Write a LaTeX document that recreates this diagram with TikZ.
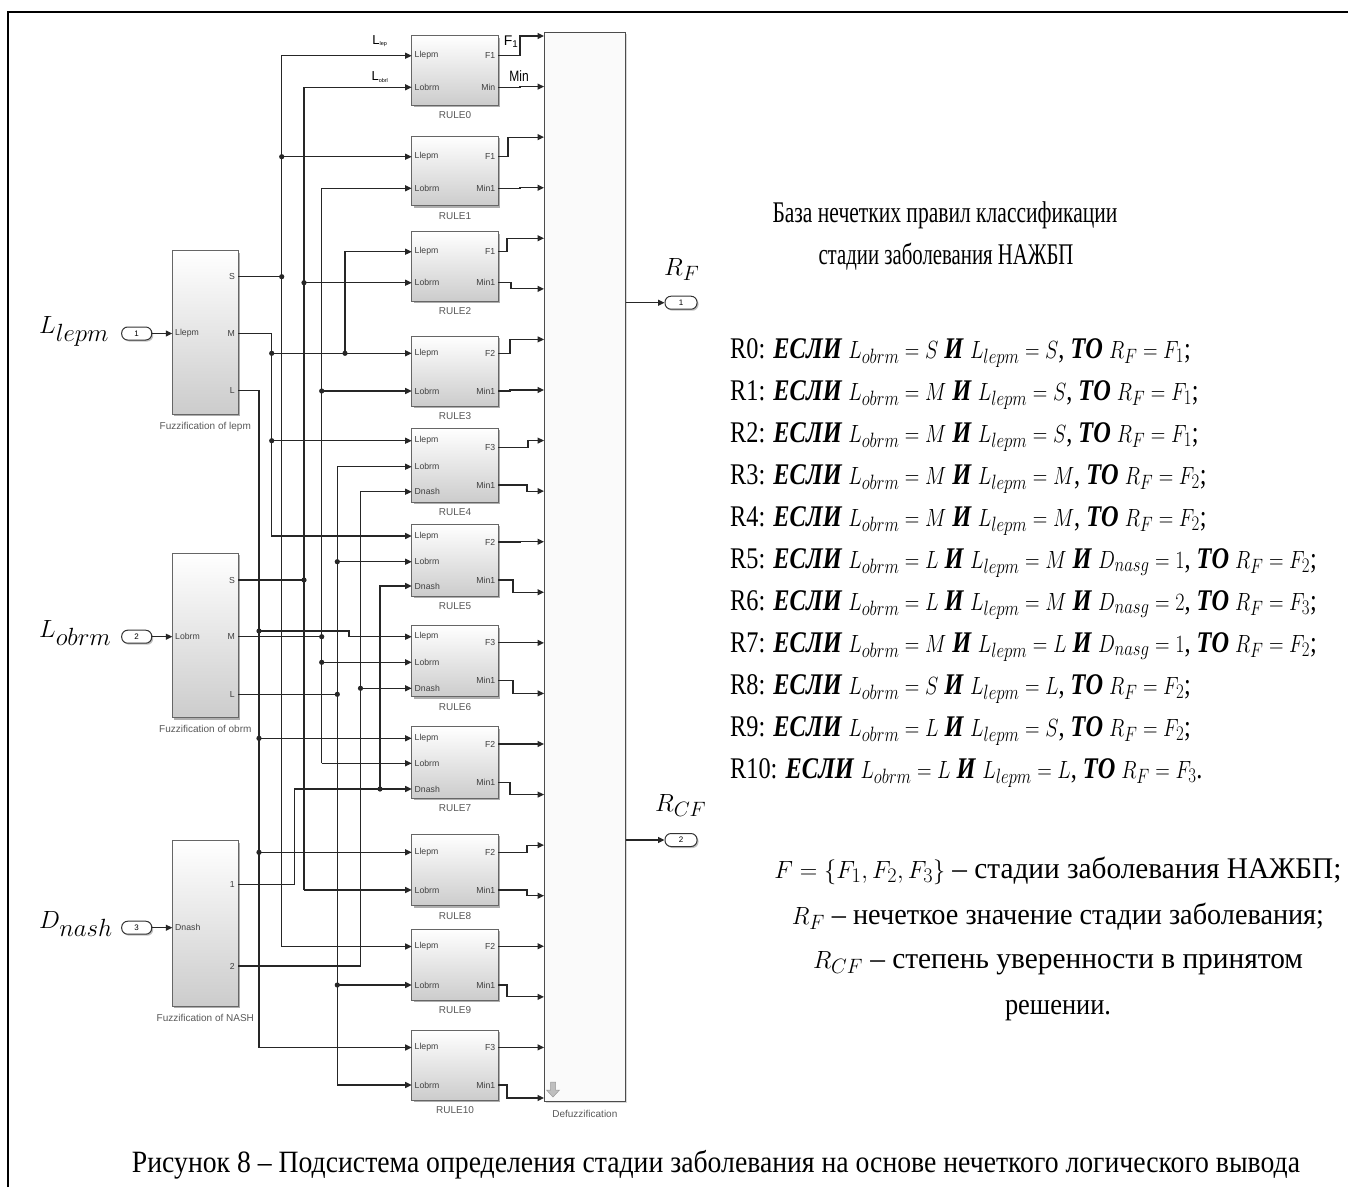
\documentclass[tikz,border=0pt]{standalone}
\usepackage{fontspec}
\setmainfont{Liberation Serif}
\newfontfamily\ssf{Liberation Sans}
\usetikzlibrary{arrows.meta,calc,shadows}
\newcommand\cz[1]{\scalebox{0.81}[1]{#1}}
\newcommand\bi[1]{\textbf{\textit{#1}}}
\tikzset{
  wire/.style={line width=1.2pt, draw=black!85},
  arr/.style={wire, -{Triangle[length=6.5pt,width=6pt]}},
  jdot/.style={fill=black!85},
  blk/.style={draw=black!60, line width=1pt, top color=white, bottom color=black!20, inner sep=0pt,
     drop shadow={shadow xshift=1.8pt, shadow yshift=-1.8pt, fill=black!45, opacity=0.7}},
  plab/.style={font=\ssf\fontsize{8.7}{9}\selectfont, text=black!75, inner sep=0pt},
  blab/.style={font=\ssf\fontsize{10}{11}\selectfont, text=black!65, inner sep=0pt},
  portn/.style={draw=black!80, line width=1pt, rounded corners=6pt, minimum width=30pt, minimum height=13pt, inner sep=0pt, fill=white, font=\ssf\fontsize{8}{9}\selectfont, drop shadow={shadow xshift=1.5pt, shadow yshift=-1.5pt, fill=black!40, opacity=0.6}},
  rtxt/.style={font=\fontsize{30}{34}\selectfont, inner sep=0pt},
}
\newcommand\rbox[4]{%
  \pgfmathsetmacro\rc{(#2+#3)/2}%
  \pgfmathsetmacro\rh{#3-#2}%
  \node[blk, minimum width=86.6pt, minimum height=\rh pt] (#1) at (455,\rc) {};
  \node[blab, anchor=north] (#1-lab) at ($(#1.south)+(0,6)$) {#4};
}
\newcommand\rin[4]{\coordinate (#1-i#2) at (411.7,#3); \node[plab, anchor=west] (#1-il#2) at (414.5,#3) {#4};}
\newcommand\rout[4]{\coordinate (#1-o#2) at (498.3,#3); \node[plab, anchor=east] (#1-ol#2) at (495.5,#3) {#4};}
\newcommand\ow[3]{\draw[arr] (#1) -| ($(dz-#3)+(#2-544,0)$) -- (dz-#3);}
\newcommand\jd[1]{\fill[jdot] (#1) circle (2.6pt);}
\begin{document}
\begin{tikzpicture}[x=1pt,y=-1pt]
\useasboundingbox (0,0) rectangle (1348,1187);
\fill[white] (0,0) rectangle (1348,1187);
\draw[line width=1.8pt] (8,1187) -- (8,12) -- (1348,12);

% ---------- rule blocks ----------
\rbox{r0}{35.7}{105}{RULE0}
\rin{r0}{1}{55.7}{Llepm}\rin{r0}{2}{87.3}{Lobrm}
\rout{r0}{1}{55.7}{F1}\rout{r0}{2}{87.3}{Min}
\rbox{r1}{136}{205.7}{RULE1}
\rin{r1}{1}{156.7}{Llepm}\rin{r1}{2}{188.3}{Lobrm}
\rout{r1}{1}{156.7}{F1}\rout{r1}{2}{188.3}{Min1}
\rbox{r2}{231.7}{301}{RULE2}
\rin{r2}{1}{251.7}{Llepm}\rin{r2}{2}{282.7}{Lobrm}
\rout{r2}{1}{251.7}{F1}\rout{r2}{2}{282.7}{Min1}
\rbox{r3}{336}{406}{RULE3}
\rin{r3}{1}{353.3}{Llepm}\rin{r3}{2}{391}{Lobrm}
\rout{r3}{1}{353.3}{F2}\rout{r3}{2}{391}{Min1}
\rbox{r4}{428.3}{502.3}{RULE4}
\rin{r4}{1}{440.7}{Llepm}\rin{r4}{2}{466.7}{Lobrm}\rin{r4}{3}{491.7}{Dnash}
\rout{r4}{1}{447.3}{F3}\rout{r4}{2}{485}{Min1}
\rbox{r5}{524.3}{596}{RULE5}
\rin{r5}{1}{536}{Llepm}\rin{r5}{2}{561.7}{Lobrm}\rin{r5}{3}{586}{Dnash}
\rout{r5}{1}{542}{F2}\rout{r5}{2}{580}{Min1}
\rbox{r6}{625.7}{696.7}{RULE6}
\rin{r6}{1}{636.7}{Llepm}\rin{r6}{2}{662.3}{Lobrm}\rin{r6}{3}{688.3}{Dnash}
\rout{r6}{1}{642.8}{F3}\rout{r6}{2}{680.7}{Min1}
\rbox{r7}{726.7}{798.3}{RULE7}
\rin{r7}{1}{738.3}{Llepm}\rin{r7}{2}{763.3}{Lobrm}\rin{r7}{3}{789}{Dnash}
\rout{r7}{1}{744}{F2}\rout{r7}{2}{782.3}{Min1}
\rbox{r8}{834.3}{905.7}{RULE8}
\rin{r8}{1}{852.3}{Llepm}\rin{r8}{2}{890}{Lobrm}
\rout{r8}{1}{852.3}{F2}\rout{r8}{2}{890}{Min1}
\rbox{r9}{929}{1000}{RULE9}
\rin{r9}{1}{946.5}{Llepm}\rin{r9}{2}{985}{Lobrm}
\rout{r9}{1}{946.5}{F2}\rout{r9}{2}{985}{Min1}
\rbox{r10}{1030}{1100}{RULE10}
\rin{r10}{1}{1047.5}{Llepm}\rin{r10}{2}{1085}{Lobrm}
\rout{r10}{1}{1047.5}{F3}\rout{r10}{2}{1085}{Min1}

% ---------- defuzzification ----------
\node[draw=black!70, line width=1pt, fill=black!2, minimum width=81.7pt, minimum height=1069.4pt, inner sep=0pt,
  drop shadow={shadow xshift=1.5pt, shadow yshift=-1.5pt, fill=black!30, opacity=0.5}] (dz) at (584.85,567) {};
\node[blab] (dzlab) at (584.85,1114) {Defuzzification};
\foreach \i in {0,...,21}{\coordinate (dz-\i) at (544,{36+50.57*\i});}
\fill[black!25, draw=black!40, line width=0.5pt] (550.5,1082) -- (555.5,1082) -- (555.5,1090) -- (559.5,1090) -- (553,1097) -- (546.5,1090) -- (550.5,1090) -- cycle;

% outputs of rules
\ow{r0-o1}{520}{0}\ow{r0-o2}{520}{1}
\ow{r1-o1}{508}{2}\ow{r1-o2}{520}{3}
\ow{r2-o1}{507}{4}\ow{r2-o2}{511}{5}
\ow{r3-o1}{510}{6}\ow{r3-o2}{510}{7}
\ow{r4-o1}{528}{8}\ow{r4-o2}{527}{9}
\ow{r5-o1}{520}{10}\ow{r5-o2}{513}{11}
\ow{r6-o1}{520}{12}\ow{r6-o2}{513}{13}
\ow{r7-o1}{520}{14}\ow{r7-o2}{510}{15}
\ow{r8-o1}{527}{16}\ow{r8-o2}{527}{17}
\ow{r9-o1}{520}{18}\ow{r9-o2}{507}{19}
\ow{r10-o1}{520}{20}\ow{r10-o2}{507}{21}

\node[font=\ssf\fontsize{14}{15}\selectfont, inner sep=0pt] (lF1) at (511,42) {F\textsubscript{1}};
\node[font=\ssf\fontsize{15}{16}\selectfont, inner sep=0pt] (lMin) at (519,76) {\scalebox{0.8}[1]{Min}};
\node[font=\ssf\fontsize{13}{14}\selectfont, inner sep=0pt] (lLl) at (380,41) {L\textsubscript{\scalebox{0.6}{lep}}};
\node[font=\ssf\fontsize{13}{14}\selectfont, inner sep=0pt] (lLo) at (380,77) {L\textsubscript{\scalebox{0.6}{obrl}}};

% output ports
\coordinate (dzo1) at (625.7,302.7);
\coordinate (dzo2) at (625.7,840);
\node[portn, minimum width=32pt] (o1) at (681,302.7) {1};
\node[portn, minimum width=32pt] (o2) at (681,840) {2};
\draw[arr] (dzo1) -- (o1.west);
\draw[arr] (dzo2) -- (o2.west);
\node[anchor=base west, font=\fontsize{31}{34}\selectfont, inner sep=0pt] (lRF) at (664,275) {$R_F$};
\node[anchor=base west, font=\fontsize{31}{34}\selectfont, inner sep=0pt] (lRCF) at (655,811) {$R_{CF}$};

% ---------- fuzzification blocks ----------
\node[blk, minimum width=66pt, minimum height=163.3pt] (fl) at (205.3,332.35) {};
\node[blk, minimum width=66pt, minimum height=164.4pt] (fo) at (205.3,635.5) {};
\node[blk, minimum width=66pt, minimum height=165.3pt] (fn) at (205.3,923.35) {};
\node[blab] (fllab) at (205.3,426.7) {Fuzzification of lepm};
\node[blab] (folab) at (205.3,729.3) {Fuzzification of obrm};
\node[blab] (fnlab) at (205.3,1017.7) {Fuzzification of NASH};
\coordinate (fl-S) at (238.3,276.7); \coordinate (fl-M) at (238.3,333.5); \coordinate (fl-L) at (238.3,390.7);
\coordinate (fo-S) at (238.3,580); \coordinate (fo-M) at (238.3,636.7); \coordinate (fo-L) at (238.3,694.3);
\coordinate (fn-1) at (238.3,884.3); \coordinate (fn-2) at (238.3,966);
\coordinate (fl-in) at (172.3,333.5); \coordinate (fo-in) at (172.3,636.7); \coordinate (fn-in) at (172.3,927.7);
\node[plab, anchor=east] (flS) at (235,276.7) {S};
\node[plab, anchor=east] (flM) at (235,333.5) {M};
\node[plab, anchor=east] (flL) at (235,390.7) {L};
\node[plab, anchor=east] (foS) at (235,580) {S};
\node[plab, anchor=east] (foM) at (235,636.7) {M};
\node[plab, anchor=east] (foL) at (235,694.3) {L};
\node[plab, anchor=east] (fn1) at (235,884.3) {1};
\node[plab, anchor=east] (fn2) at (235,966) {2};
\node[plab, anchor=west] (flin) at (175,333.5) {Llepm};
\node[plab, anchor=west] (foin) at (175,636.7) {Lobrm};
\node[plab, anchor=west] (fnin) at (175,927.7) {Dnash};

% input ports
\node[portn] (p1) at (136.7,333.5) {1};
\node[portn] (p2) at (136.7,636.7) {2};
\node[portn] (p3) at (136.7,927.7) {3};
\draw[arr] (p1.east) -- (fl-in);
\draw[arr] (p2.east) -- (fo-in);
\draw[arr] (p3.east) -- (fn-in);
\node[anchor=base west, font=\fontsize{33}{36}\selectfont, inner sep=0pt] (lL1) at (39,333) {$L_{lepm}$};
\node[anchor=base west, font=\fontsize{33}{36}\selectfont, inner sep=0pt] (lL2) at (39,637) {$L_{obrm}$};
\node[anchor=base west, font=\fontsize{33}{36}\selectfont, inner sep=0pt] (lL3) at (39,928) {$D_{nash}$};

% ---------- bus wiring ----------
\coordinate (xLL) at (259,0); \coordinate (xLM) at (271.7,0); \coordinate (xLS) at (281.7,0);
\coordinate (xN1j) at (294.3,0); \coordinate (xOS) at (304,0); \coordinate (xOM) at (321.7,0);
\coordinate (xOL) at (337.3,0); \coordinate (xR2) at (345,0); \coordinate (xJ6) at (349,0);
\coordinate (xN2) at (360.5,0); \coordinate (xN1) at (380,0);
\coordinate (j6a) at (259,631);

% lepm S
\draw[arr] (xLS |- r9-i1) -- (xLS |- r0-i1) -- (r0-i1);
\draw[arr] (xLS |- r9-i1) -- (r9-i1);
\draw[arr] (xLS |- r1-i1) -- (r1-i1);
\draw[wire] (fl-S) -- (xLS |- fl-S);
\jd{xLS |- r1-i1}\jd{xLS |- fl-S}
% lepm M
\draw[arr] (fl-M) -| (xLM |- r5-i1) -- (r5-i1);
\draw[arr] (xLM |- r3-i1) -- (r3-i1);
\draw[arr] (xLM |- r4-i1) -- (r4-i1);
\draw[arr] (xR2 |- r3-i1) -- (xR2 |- r2-i1) -- (r2-i1);
\jd{xLM |- r3-i1}\jd{xR2 |- r3-i1}\jd{xLM |- r4-i1}
% lepm L
\draw[arr] (fl-L) -| (xLL |- r10-i1) -- (r10-i1);
\draw[arr] (j6a) -- (xJ6 |- j6a) -- (xJ6 |- r6-i1) -- (r6-i1);
\draw[arr] (xLL |- r7-i1) -- (r7-i1);
\draw[arr] (xLL |- r8-i1) -- (r8-i1);
\jd{j6a}\jd{xLL |- r7-i1}\jd{xLL |- r8-i1}
% obrm S
\draw[arr] (xOS |- r8-i2) -- (xOS |- r0-i2) -- (r0-i2);
\draw[arr] (xOS |- r8-i2) -- (r8-i2);
\draw[arr] (xOS |- r2-i2) -- (r2-i2);
\draw[wire] (fo-S) -- (xOS |- fo-S);
\jd{xOS |- r2-i2}\jd{xOS |- fo-S}
% obrm M
\draw[arr] (xOM |- r7-i2) -- (xOM |- r1-i2) -- (r1-i2);
\draw[arr] (xOM |- r7-i2) -- (r7-i2);
\draw[arr] (xOM |- r3-i2) -- (r3-i2);
\draw[arr] (xOM |- r6-i2) -- (r6-i2);
\draw[wire] (fo-M) -- (xOM |- fo-M);
\jd{xOM |- r3-i2}\jd{xOM |- fo-M}\jd{xOM |- r6-i2}
% obrm L
\draw[arr] (xOL |- r10-i2) -- (xOL |- r4-i2) -- (r4-i2);
\draw[arr] (xOL |- r10-i2) -- (r10-i2);
\draw[arr] (xOL |- r5-i2) -- (r5-i2);
\draw[arr] (xOL |- r9-i2) -- (r9-i2);
\draw[wire] (fo-L) -- (xOL |- fo-L);
\jd{xOL |- r5-i2}\jd{xOL |- fo-L}\jd{xOL |- r9-i2}
% nash 1
\draw[arr] (fn-1) -| (xN1j |- r7-i3) -- (r7-i3);
\draw[arr] (xN1 |- r7-i3) -- (xN1 |- r5-i3) -- (r5-i3);
\jd{xN1 |- r7-i3}
% nash 2
\draw[arr] (fn-2) -| (xN2 |- r4-i3) -- (r4-i3);
\draw[arr] (xN2 |- r6-i3) -- (r6-i3);
\jd{xN2 |- r6-i3}

% ---------- right text ----------
\node[rtxt, anchor=base] (t1) at (945,222) {\resizebox{345pt}{\height}{База нечетких правил классификации}};
\node[rtxt, anchor=base] (t2) at (946,264) {\resizebox{255pt}{\height}{стадии заболевания НАЖБП}};
\node[rtxt, anchor=base west] (R0) at (730,358) {\cz{R0: \bi{ЕСЛИ} $L_{obrm}=S$ \bi{И} $L_{lepm}=S$, \bi{ТО} $R_F=F_1$;}};
\node[rtxt, anchor=base west] (R1) at (730,400) {\cz{R1: \bi{ЕСЛИ} $L_{obrm}=M$ \bi{И} $L_{lepm}=S$, \bi{ТО} $R_F=F_1$;}};
\node[rtxt, anchor=base west] (R2) at (730,442) {\cz{R2: \bi{ЕСЛИ} $L_{obrm}=M$ \bi{И} $L_{lepm}=S$, \bi{ТО} $R_F=F_1$;}};
\node[rtxt, anchor=base west] (R3) at (730,484) {\cz{R3: \bi{ЕСЛИ} $L_{obrm}=M$ \bi{И} $L_{lepm}=M$, \bi{ТО} $R_F=F_2$;}};
\node[rtxt, anchor=base west] (R4) at (730,526) {\cz{R4: \bi{ЕСЛИ} $L_{obrm}=M$ \bi{И} $L_{lepm}=M$, \bi{ТО} $R_F=F_2$;}};
\node[rtxt, anchor=base west] (R5) at (730,568) {\cz{R5: \bi{ЕСЛИ} $L_{obrm}=L$ \bi{И} $L_{lepm}=M$ \bi{И} $D_{nasg}=1$, \bi{ТО} $R_F=F_2$;}};
\node[rtxt, anchor=base west] (R6) at (730,610) {\cz{R6: \bi{ЕСЛИ} $L_{obrm}=L$ \bi{И} $L_{lepm}=M$ \bi{И} $D_{nasg}=2$, \bi{ТО} $R_F=F_3$;}};
\node[rtxt, anchor=base west] (R7) at (730,652) {\cz{R7: \bi{ЕСЛИ} $L_{obrm}=M$ \bi{И} $L_{lepm}=L$ \bi{И} $D_{nasg}=1$, \bi{ТО} $R_F=F_2$;}};
\node[rtxt, anchor=base west] (R8) at (730,694) {\cz{R8: \bi{ЕСЛИ} $L_{obrm}=S$ \bi{И} $L_{lepm}=L$, \bi{ТО} $R_F=F_2$;}};
\node[rtxt, anchor=base west] (R9) at (730,736) {\cz{R9: \bi{ЕСЛИ} $L_{obrm}=L$ \bi{И} $L_{lepm}=S$, \bi{ТО} $R_F=F_2$;}};
\node[rtxt, anchor=base west] (R10) at (730,778) {\cz{R10: \bi{ЕСЛИ} $L_{obrm}=L$ \bi{И} $L_{lepm}=L$, \bi{ТО} $R_F=F_3$.}};
\node[rtxt, anchor=base] (e1) at (1058,878) {\resizebox{567pt}{\height}{$F=\{F_1,F_2,F_3\}$ -- стадии заболевания НАЖБП;}};
\node[rtxt, anchor=base] (e2) at (1058,924) {\resizebox{532pt}{\height}{$R_F$ -- нечеткое значение стадии заболевания;}};
\node[rtxt, anchor=base] (e3) at (1058,968) {\resizebox{490pt}{\height}{$R_{CF}$ -- степень уверенности в принятом}};
\node[rtxt, anchor=base] (e4) at (1058,1014) {\resizebox{106pt}{\height}{решении.}};

% caption
\node[rtxt, anchor=base, font=\fontsize{31}{34}\selectfont] (cap) at (716,1172) {\resizebox{1168pt}{\height}{Рисунок 8 -- Подсистема определения стадии заболевания на основе нечеткого логического вывода}};
\end{tikzpicture}
\end{document}
